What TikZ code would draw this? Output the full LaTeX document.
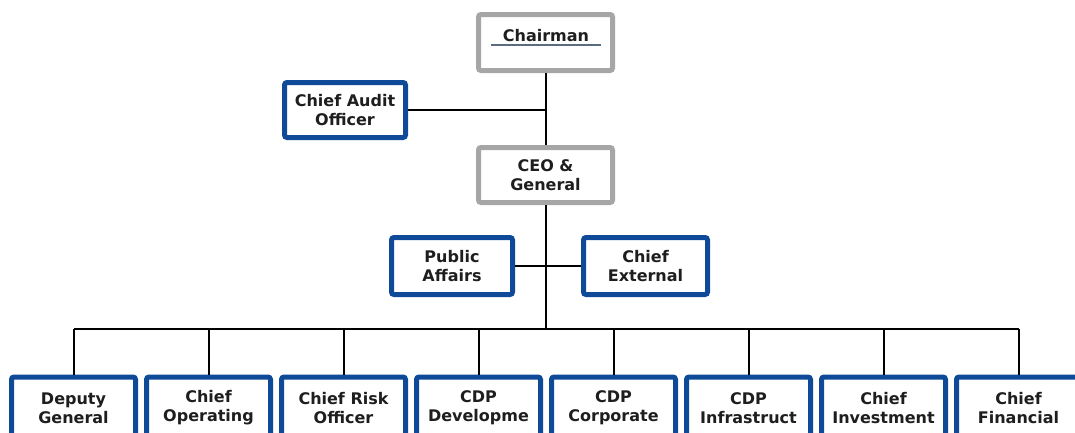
\documentclass[tikz,border=0pt]{standalone}
\usepackage{fontspec}
\setmainfont{DejaVu Sans}
\definecolor{boxblue}{HTML}{0E4A97}
\definecolor{boxgray}{HTML}{A6A6A6}
\definecolor{txt}{HTML}{1E1E1E}
\definecolor{uline}{HTML}{5B6B80}
\begin{document}
\begin{tikzpicture}[x=1pt,y=-1pt,
  base/.style={rectangle, draw, line width=5pt, rounded corners=2.5pt, inner sep=0pt,
    align=center, text=txt, font=\fontsize{16}{19}\selectfont\bfseries, fill=white},
  bluebox/.style={base, draw=boxblue},
  graybox/.style={base, draw=boxgray},
  bottombox/.style={bluebox, minimum width=124pt, minimum height=62pt},
  conn/.style={draw=black, line width=2pt}]
\useasboundingbox (0,0) rectangle (1075,432);
\fill[white] (0,0) rectangle (1075,432);

\coordinate (bus) at (545.5,329);

% top boxes
\node[graybox, minimum width=134pt, minimum height=56pt] (chair) at (545.5,42.5) {};
\node[text=txt, font=\fontsize{16}{19}\selectfont\bfseries, inner sep=0pt] (chairtxt) at (546,36) {Chairman};
\draw[uline, line width=1.6pt] (491,45) -- (601,45);

\node[bluebox, minimum width=121pt, minimum height=55pt] (audit) at (345,110) {Chief Audit\\Officer};
\node[graybox, minimum width=134pt, minimum height=55pt] (ceo) at (545.5,175) {CEO \&\\General};
\node[bluebox, minimum width=121pt, minimum height=57pt] (pa) at (452,266) {Public\\Affairs};
\node[bluebox, minimum width=124pt, minimum height=57pt] (ext) at (645.5,266) {Chief\\External};

% bottom row
\node[bottombox] (b1) at (73.5,408) {Deputy\\General};
\node[bottombox] (b2) at (208.5,408) {Chief\\Operating};
\node[bottombox] (b3) at (343.5,408) {Chief Risk\\Officer};
\node[bottombox] (b4) at (478.5,408) {CDP\\Developme};
\node[bottombox] (b5) at (613.5,408) {CDP\\Corporate};
\node[bottombox] (b6) at (748.5,408) {CDP\\Infrastruct};
\node[bottombox] (b7) at (883.5,408) {Chief\\Investment};
\node[bottombox] (b8) at (1018.5,408) {Chief\\Financial};

% connectors
\draw[conn] (chair.south) -- (ceo.north);
\draw[conn] (audit.east) -- (audit.east -| chair.south);
\draw[conn] (ceo.south) -- (bus);
\draw[conn] (pa.east) -- (ext.west);
\draw[conn] (b1.north |- bus) -- (b8.north |- bus);
\foreach \b in {b1,b2,b3,b4,b5,b6,b7,b8}{
  \draw[conn] (\b.north |- bus) -- (\b.north);
}
\end{tikzpicture}
\end{document}
